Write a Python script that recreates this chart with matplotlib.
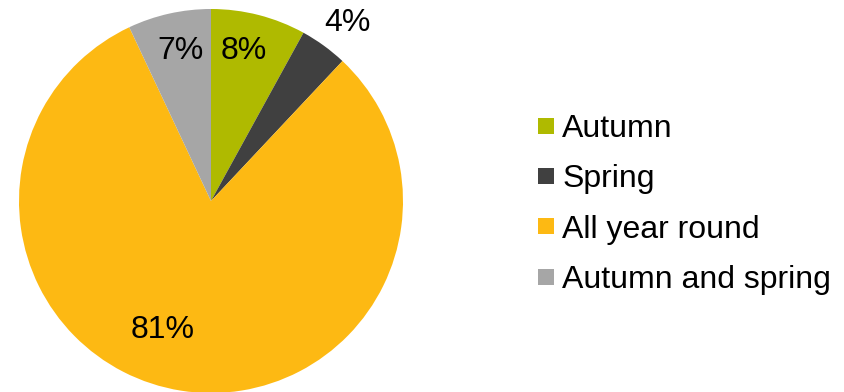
import numpy as np
import matplotlib.pyplot as plt
from matplotlib.lines import Line2D

plt.rcParams['font.family'] = ['Liberation Sans', 'DejaVu Sans']

# Share of occurrences by season
seasons = ['Autumn', 'Spring', 'All year round', 'Autumn and spring']
shares = [8, 4, 81, 7]
colors = ['#AFBA00', '#404040', '#FDB913', '#A6A6A6']

# label placement: radial fraction and angular nudge (degrees) per wedge
label_radius = [0.80, 1.17, 0.72, 0.80]
label_nudge = [2.0, -1.4, -11.6, -1.0]

fig = plt.figure(figsize=(8.44, 3.92), dpi=100)
ax = fig.add_axes([0, 0, 1, 1])

cx, cy, r = 211, 191, 192
wedges, _ = ax.pie(shares, colors=colors, startangle=90, counterclock=False,
                   center=(cx, cy), radius=r, frame=True,
                   wedgeprops=dict(linewidth=0))
ax.set_xlim(0, 844)
ax.set_ylim(0, 392)
ax.set_aspect('equal')
ax.axis('off')

total = sum(shares)
for w, val, rf, nudge in zip(wedges, shares, label_radius, label_nudge):
    mid = np.deg2rad((w.theta1 + w.theta2) / 2 + nudge)
    x = cx + rf * r * np.cos(mid)
    y = cy + rf * r * np.sin(mid)
    ax.text(x, y, f'{val / total * 100:.0f}%', ha='center', va='center',
            fontsize=23, color='black')

handles = [Line2D([], [], marker='s', linestyle='none', markersize=12,
                  markerfacecolor=c, markeredgewidth=0) for c in colors]
fig.legend(handles, seasons, loc='center left', bbox_to_anchor=(0.638, 0.4785),
           frameon=False, fontsize=23, handlelength=0.5, handletextpad=0.25,
           labelspacing=0.64, borderpad=0, borderaxespad=0)

fig.savefig('out.png', dpi=100)
